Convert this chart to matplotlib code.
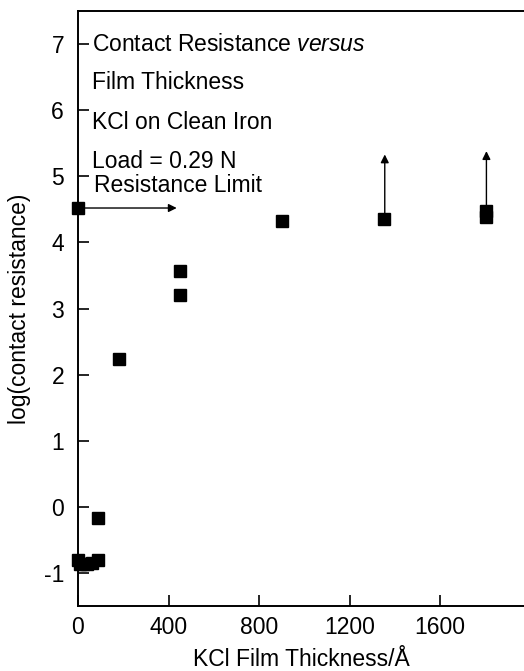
import matplotlib
matplotlib.use("Agg")
import matplotlib.pyplot as plt

plt.rcParams['font.family'] = ['Liberation Sans', 'DejaVu Sans']
plt.rcParams['axes.unicode_minus'] = False
plt.rcParams['mathtext.fontset'] = 'custom'
plt.rcParams['mathtext.it'] = 'Liberation Sans:italic'
plt.rcParams['mathtext.rm'] = 'Liberation Sans'

# film thickness (Angstrom) and log(contact resistance)
thickness = [0, 0, 10, 20, 40, 60, 90, 90, 180, 450, 450, 900, 1350, 1800, 1800]
log_res = [4.52, -0.80, -0.87, -0.86, -0.86, -0.85, -0.81, -0.17, 2.23, 3.56, 3.21, 4.33, 4.36, 4.47, 4.39]

# arrows: (x_start, y_start, x_end, y_end)
limit_arrow = (0, 4.52, 436, 4.52)
up_arrows = [(1355, 4.42, 1355, 5.33), (1804, 4.52, 1804, 5.38)]

notes = ["Contact Resistance $\\it{versus}$", "Film Thickness", "KCl on Clean Iron",
         "Load = 0.29 N", "Resistance Limit"]
note_y = [6.894, 6.314, 5.718, 5.127, 4.758]
note_x = [62, 62, 62, 62, 70]

xticks = [0, 400, 800, 1200, 1600]
yticks = [-1, 0, 1, 2, 3, 4, 5, 6, 7]

fs = 16.5

fig = plt.figure(figsize=(5.24, 6.71), dpi=100)
ax = fig.add_axes([78 / 524, 65 / 671, 1 - 78 / 524, (606 - 11) / 671])

ax.plot(thickness, log_res, linestyle='none', marker='s', markersize=8.8,
        color='black', clip_on=False, zorder=3)

ax.annotate("", xy=limit_arrow[2:], xytext=limit_arrow[:2],
            arrowprops=dict(arrowstyle='-|>', color='black', lw=1.0,
                            mutation_scale=12, shrinkA=0, shrinkB=0))
for a in up_arrows:
    ax.annotate("", xy=a[2:], xytext=a[:2],
                arrowprops=dict(arrowstyle='-|>', color='black', lw=1.0,
                                mutation_scale=12, shrinkA=0, shrinkB=0))

for t, x, y in zip(notes, note_x, note_y):
    ax.text(x, y, t, fontsize=fs, va='baseline', ha='left')

ax.set_xlim(0, 1970)
ax.set_ylim(-1.5, 7.5)
ax.set_xticks(xticks)
ax.set_yticks(yticks)
ax.tick_params(direction='in', length=8, width=1.2, labelsize=fs)
ax.tick_params(axis='x', pad=7)
ax.tick_params(axis='y', pad=10)
ax.spines['right'].set_visible(False)
for s in ['left', 'bottom', 'top']:
    ax.spines[s].set_linewidth(1.4)

ax.set_xlabel("KCl Film Thickness/Å", fontsize=fs, labelpad=7)
ax.set_ylabel("log(contact resistance)", fontsize=fs, labelpad=9)

fig.savefig("out.png", dpi=100)
